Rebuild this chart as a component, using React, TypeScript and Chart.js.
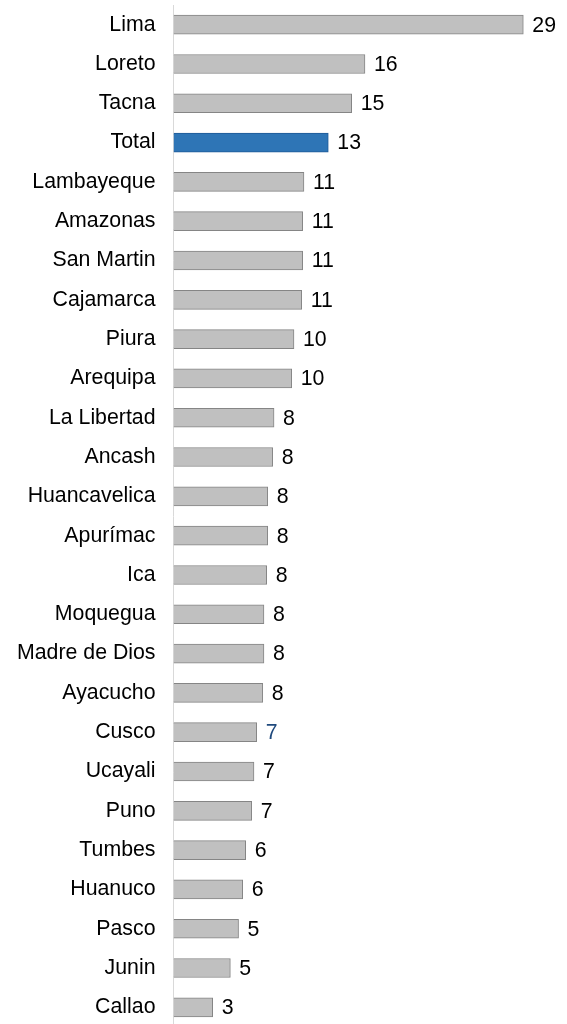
import React, { useEffect, useRef } from "react";
import { Chart, registerables } from "chart.js";

Chart.register(...registerables);

const categories = [
  "Lima", "Loreto", "Tacna", "Total", "Lambayeque", "Amazonas", "San Martin",
  "Cajamarca", "Piura", "Arequipa", "La Libertad", "Ancash", "Huancavelica",
  "Apurímac", "Ica", "Moquegua", "Madre de Dios", "Ayacucho", "Cusco",
  "Ucayali", "Puno", "Tumbes", "Huanuco", "Pasco", "Junin", "Callao",
];

const values = [
  29.47, 16.13, 15.01, 13.04, 10.99, 10.88, 10.88, 10.8, 10.15, 9.96, 8.47,
  8.36, 7.94, 7.94, 7.85, 7.62, 7.62, 7.52, 7.01, 6.78, 6.59, 6.08, 5.83,
  5.48, 4.79, 3.3,
];

const valueLabels = [
  "29", "16", "15", "13", "11", "11", "11", "11", "10", "10", "8", "8", "8",
  "8", "8", "8", "8", "8", "7", "7", "7", "6", "6", "5", "5", "3",
];

const highlightCategory = "Total";
const blueLabelCategory = "Cusco";

const FONT = "'Liberation Sans', Arial, sans-serif";

const valueLabelPlugin = {
  id: "valueLabels",
  afterDatasetsDraw(chart: any) {
    const ctx = chart.ctx;
    const meta = chart.getDatasetMeta(0);
    ctx.save();
    ctx.font = `21.3px ${FONT}`;
    ctx.textAlign = "left";
    ctx.textBaseline = "middle";
    meta.data.forEach((bar: any, i: number) => {
      ctx.fillStyle = categories[i] === blueLabelCategory ? "#1F497D" : "#000000";
      ctx.fillText(valueLabels[i], bar.x + 9, bar.y + 1);
    });
    ctx.restore();
  },
};

export default function App() {
  const ref = useRef<HTMLCanvasElement>(null);

  useEffect(() => {
    document.body.style.margin = "0";
    const canvas = ref.current;
    if (!canvas) return;
    const chart = new Chart(canvas, {
      type: "bar",
      data: {
        labels: categories,
        datasets: [
          {
            data: values,
            backgroundColor: categories.map((c) =>
              c === highlightCategory ? "#2E75B6" : "#C0C0C0"
            ),
            borderColor: categories.map((c) =>
              c === highlightCategory ? "#1F5A96" : "#858585"
            ),
            borderWidth: 1,
            barThickness: 19,
          },
        ],
      },
      options: {
        indexAxis: "y",
        responsive: false,
        maintainAspectRatio: false,
        animation: false,
        layout: { padding: { top: 5, left: 0, right: 0, bottom: 0 } },
        plugins: {
          legend: { display: false },
          tooltip: { enabled: false },
        },
        scales: {
          x: { display: false, min: 0, max: 33.15 },
          y: {
            grid: { display: false, drawTicks: false },
            border: { display: true, color: "#D9D9D9", width: 1 },
            ticks: {
              color: "#000000",
              padding: 18,
              font: { family: FONT, size: 21.3 },
            },
            afterFit: (axis: any) => {
              axis.width = 173.5;
              axis.paddingTop = 0;
              axis.paddingBottom = 0;
            },
          },
        },
      },
      plugins: [valueLabelPlugin],
    });
    return () => chart.destroy();
  }, []);

  return (
    <div style={{ width: 567, height: 1024, overflow: "hidden" }}>
      <canvas ref={ref} width={567} height={1027} style={{ display: "block" }} />
    </div>
  );
}
